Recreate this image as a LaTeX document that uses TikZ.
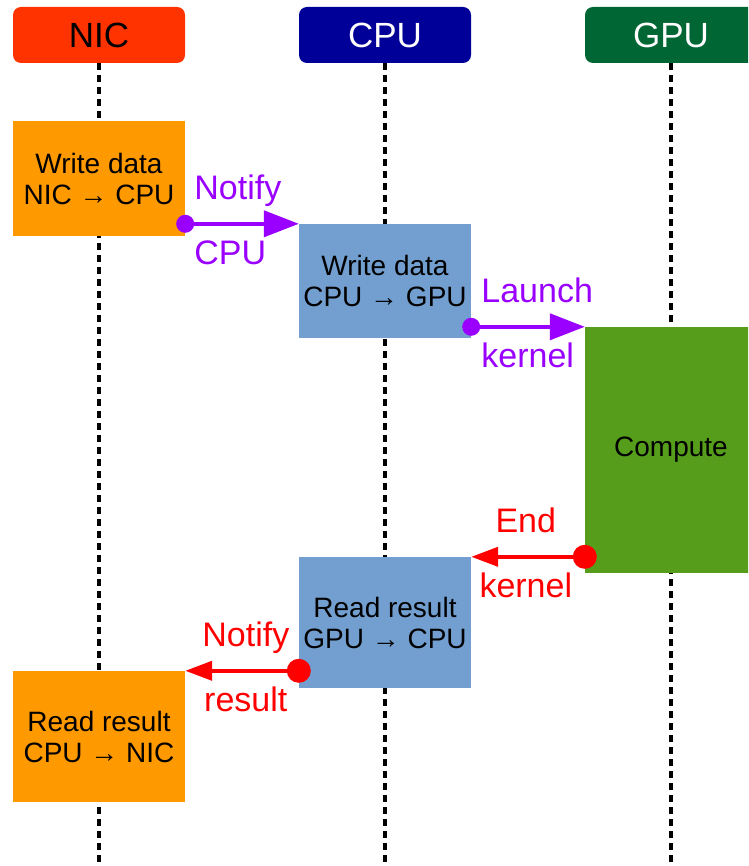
\documentclass[tikz,border=0pt]{standalone}
\usepackage{fontspec}
\setmainfont{Liberation Sans}
\usetikzlibrary{arrows.meta}

\definecolor{nicred}{HTML}{FF3300}
\definecolor{cpublue}{HTML}{000099}
\definecolor{gpugreen}{HTML}{006633}
\definecolor{taskorange}{HTML}{FF9900}
\definecolor{taskblue}{HTML}{729FCF}
\definecolor{taskgreen}{HTML}{579D1C}
\definecolor{sigpurple}{HTML}{9900FF}
\definecolor{sigred}{HTML}{FF0000}

\tikzset{
  header/.style={rounded corners=8pt, minimum width=172pt, minimum height=56pt,
    inner sep=0pt, font=\fontsize{35}{40}\selectfont},
  lifeline/.style={line width=3.5pt, dash pattern=on 7pt off 5pt},
  task/.style={minimum width=172pt, inner sep=0pt, align=center,
    font=\fontsize{28}{31}\selectfont},
  siglabel/.style={font=\fontsize{34}{38}\selectfont, inner sep=0pt},
  notify/.style={line width=4pt, color=sigpurple,
    -{Triangle[length=35pt,width=26pt]}},
  reply/.style={line width=4pt, color=sigred,
    -{Triangle[length=27pt,width=19pt]}},
}

\begin{document}
\begin{tikzpicture}[x=1pt, y=-1pt]
  \useasboundingbox (0,0) rectangle (748,866);
  \clip (0,0) rectangle (748,866);
  \fill[white] (0,0) rectangle (748,866);

  % column headers
  \node[header, fill=nicred, text=black] (nic) at (99,35) {NIC};
  \node[header, fill=cpublue, text=white] (cpu) at (385,35) {CPU};
  \node[header, fill=gpugreen, text=white] (gpu) at (671,35) {GPU};

  % lifelines
  \coordinate (nicend) at (99,866);
  \coordinate (cpuend) at (385,866);
  \coordinate (gpuend) at (671,866);
  \draw[lifeline] (nic.south) -- (nicend);
  \draw[lifeline] (cpu.south) -- (cpuend);
  \draw[lifeline] (gpu.south) -- (gpuend);

  % activity boxes
  \node[task, fill=taskorange, minimum height=115pt] (w1) at (99,178.5)
    {Write data\\NIC → CPU};
  \node[task, fill=taskblue, minimum height=114pt] (c1) at (385,281)
    {Write data\\CPU → GPU};
  \node[task, fill=taskgreen, minimum height=246pt] (g1) at (671,450)
    {Compute};
  \node[task, fill=taskblue, minimum height=131pt] (c2) at (385,622.5)
    {Read result\\GPU → CPU};
  \node[task, fill=taskorange, minimum height=131pt] (n2) at (99,736.5)
    {Read result\\CPU → NIC};

  % signals
  \coordinate (s1) at (w1.east |- c1.north west);
  \draw[notify] (s1) -- (c1.north west);
  \fill[sigpurple] (s1) circle (9pt);
  \node[siglabel, text=sigpurple, anchor=base west] at ([xshift=9pt, yshift=24pt]s1) {Notify};
  \node[siglabel, text=sigpurple, anchor=base west] at ([xshift=9pt, yshift=-41pt]s1) {CPU};

  \coordinate (s2) at (c1.east |- g1.north west);
  \draw[notify] (s2) -- (g1.north west);
  \fill[sigpurple] (s2) circle (9pt);
  \node[siglabel, text=sigpurple, anchor=base west] at ([xshift=10pt, yshift=24pt]s2) {Launch};
  \node[siglabel, text=sigpurple, anchor=base west] at ([xshift=10pt, yshift=-41pt]s2) {kernel};

  \coordinate (s3) at (g1.west |- c2.north east);
  \draw[reply] (s3) -- (c2.north east);
  \fill[sigred] (s3) circle (12pt);
  \node[siglabel, text=sigred, anchor=base] at ([xshift=-59pt, yshift=24pt]s3) {End};
  \node[siglabel, text=sigred, anchor=base] at ([xshift=-59pt, yshift=-41pt]s3) {kernel};

  \coordinate (s4) at (c2.west |- n2.north east);
  \draw[reply] (s4) -- (n2.north east);
  \fill[sigred] (s4) circle (12pt);
  \node[siglabel, text=sigred, anchor=base] at ([xshift=-53pt, yshift=24pt]s4) {Notify};
  \node[siglabel, text=sigred, anchor=base] at ([xshift=-53pt, yshift=-41pt]s4) {result};
\end{tikzpicture}
\end{document}
